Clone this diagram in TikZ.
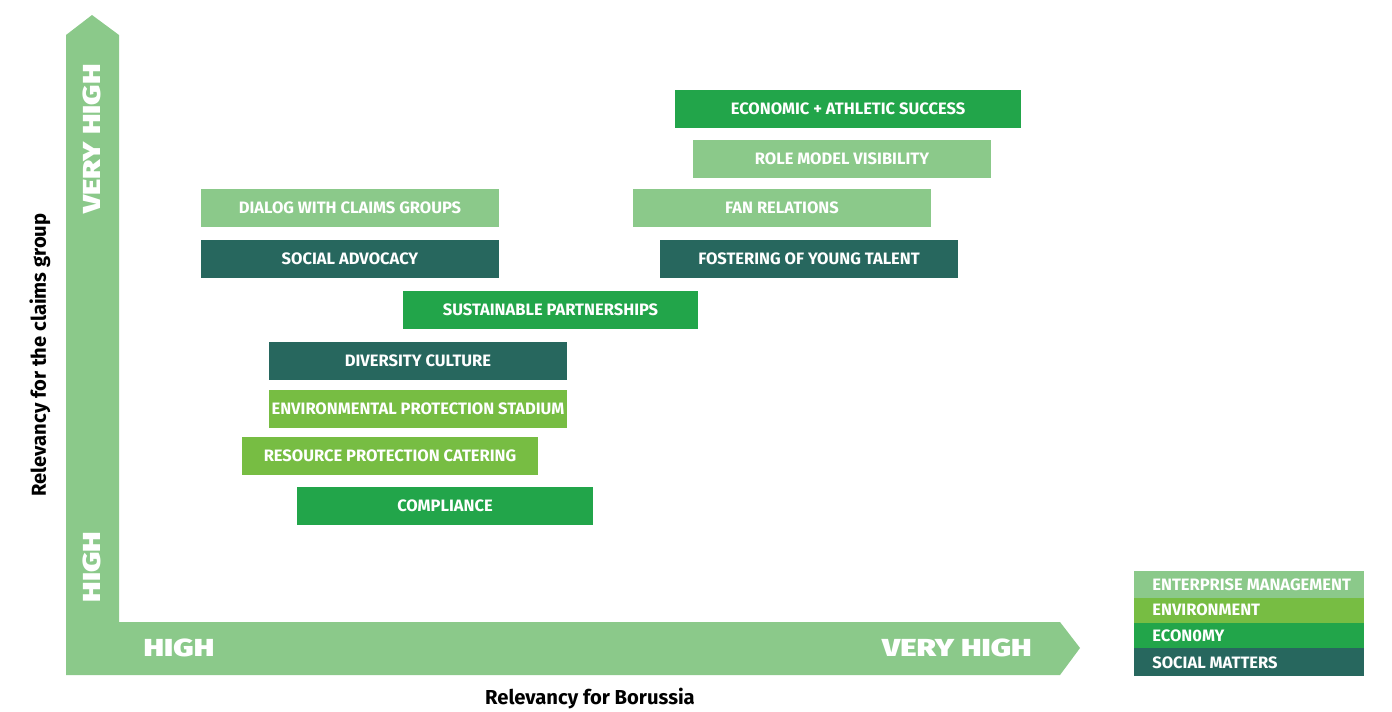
\documentclass[tikz,border=0pt]{standalone}
\usepackage{fontspec}
\setmainfont{Fira Sans}
\newfontfamily\axisfont[FakeStretch=1.27]{Fira Sans Black}
\definecolor{mgmt}{HTML}{8BC98A}
\definecolor{envi}{HTML}{77BD43}
\definecolor{econ}{HTML}{22A54A}
\definecolor{social}{HTML}{27675E}
\begin{document}
\begin{tikzpicture}[x=0.02cm, y=-0.02cm,
  box/.style={inner sep=0pt, minimum height=0.76cm, minimum width=5.96cm, text=white,
    font=\bfseries\fontsize{9.4}{11}\selectfont},
  level/.style={text=white, font=\axisfont\fontsize{14}{16}\selectfont},
  key/.style={inner sep=0pt, anchor=west, text=white, font=\bfseries\fontsize{9.4}{11}\selectfont}]
\useasboundingbox (0,0) rectangle (1392,711);
% axes
\fill[mgmt] (66,675) -- (66,35) -- (92,15) -- (119,35) -- (119,622) -- (1060,622)
  -- (1080,648) -- (1060,675) -- cycle;
\node[level, rotate=90] (yvh) at (92,139) {VERY HIGH};
\node[level, rotate=90] (yh) at (92,567) {HIGH};
\node[level] (xh) at (179,648) {HIGH};
\node[level] (xvh) at (957,648) {VERY HIGH};
\node[rotate=90, font=\bfseries\fontsize{11.5}{13}\selectfont] (ytitle) at (40,355) {Relevancy for the claims group};
\node[font=\bfseries\fontsize{11.5}{13}\selectfont] (xtitle) at (590,699) {Relevancy for Borussia};
% topics
\node[box, fill=econ, minimum width=6.92cm] (success) at (848,109) {ECONOMIC + ATHLETIC SUCCESS};
\node[box, fill=mgmt] (role) at (842,159) {ROLE MODEL VISIBILITY};
\node[box, fill=mgmt] (fans) at (782,208) {FAN RELATIONS};
\node[box, fill=social] (young) at (809,259) {FOSTERING OF YOUNG TALENT};
\node[box, fill=mgmt] (dialog) at (350,208) {DIALOG WITH CLAIMS GROUPS};
\node[box, fill=social] (advocacy) at (350,259) {SOCIAL ADVOCACY};
\node[box, fill=econ, minimum width=5.9cm] (partner) at (550.5,310) {SUSTAINABLE PARTNERSHIPS};
\node[box, fill=social] (diversity) at (418,361) {DIVERSITY CULTURE};
\node[box, fill=envi] (stadium) at (418,409) {ENVIRONMENTAL PROTECTION STADIUM};
\node[box, fill=envi, minimum width=5.92cm] (catering) at (390,456) {RESOURCE PROTECTION CATERING};
\node[box, fill=econ, minimum width=5.92cm] (compliance) at (445,506) {COMPLIANCE};
% legend
\fill[mgmt] (1134,571) rectangle (1364,598);
\fill[envi] (1134,598) rectangle (1364,623);
\fill[econ] (1134,623) rectangle (1364,648);
\fill[social] (1134,648) rectangle (1364,676);
\node[key] (k1) at (1152,585) {ENTERPRISE MANAGEMENT};
\node[key] (k2) at (1152,610) {ENVIRONMENT};
\node[key] (k3) at (1152,636) {ECON0MY};
\node[key] (k4) at (1152,663) {SOCIAL MATTERS};
\end{tikzpicture}
\end{document}
